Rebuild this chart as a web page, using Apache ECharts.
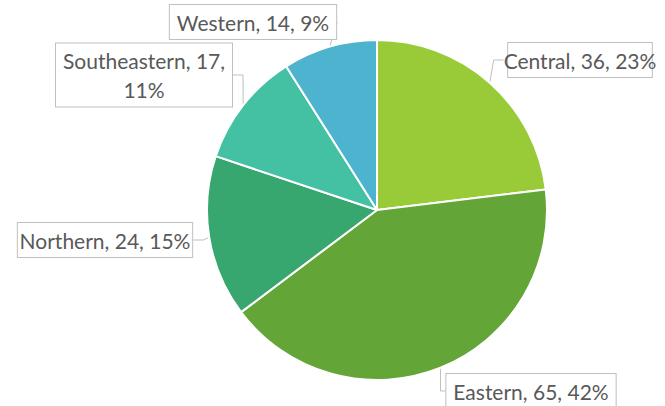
<!DOCTYPE html>
<html>
<head>
<meta charset="utf-8">
<script src="https://cdn.jsdelivr.net/npm/echarts@6/dist/echarts.min.js"></script>
<style>
  html, body { margin: 0; padding: 0; background: #fff; }
  #chart { width: 665px; height: 406px; }
</style>
</head>
<body>
<div id="chart"></div>
<script>
(function() {
  var regions = ['Central', 'Eastern', 'Northern', 'Southeastern', 'Western'];
  var counts = [36, 65, 24, 17, 14];
  var colors = ['#99CB38', '#63A537', '#37A76F', '#44C1A3', '#4EB3CF'];

  // where each callout box sits (centre of box, px)
  var labelPos = {
    Central: [580, 60],
    Eastern: [531, 391],
    Northern: [105, 240],
    Southeastern: [144, 75],
    Western: [253, 22]
  };
  var wrapped = { Southeastern: true };

  var chart = echarts.init(document.getElementById('chart'), null, { renderer: 'svg' });
  chart.setOption({
    animation: false,
    color: colors,
    series: [{
      type: 'pie',
      center: [377, 210],
      radius: 170,
      startAngle: 90,
      clockwise: true,
      percentPrecision: 0,
      data: regions.map(function(r, i) { return { name: r, value: counts[i] }; }),
      itemStyle: { borderColor: '#fff', borderWidth: 2 },
      label: {
        show: true,
        position: 'outside',
        overflow: 'none',
        color: '#595959',
        fontFamily: 'Lato, sans-serif',
        fontSize: 21,
        lineHeight: 29,
        align: 'center',
        backgroundColor: '#fff',
        borderColor: '#BFBFBF',
        borderWidth: 1,
        padding: [3, 7, 2, 7],
        formatter: function(p) {
          if (wrapped[p.name]) return p.name + ', ' + p.value + ',\n' + p.percent + '%';
          return p.name + ', ' + p.value + ', ' + p.percent + '%';
        }
      },
      labelLine: {
        show: true,
        length: 10,
        length2: 10,
        lineStyle: { color: '#BFBFBF', width: 1 }
      },
      labelLayout: function(params) {
        var pos = labelPos[regions[params.dataIndex]];
        return { x: pos[0], y: pos[1], align: 'center', verticalAlign: 'middle' };
      }
    }]
  });
  window.addEventListener('resize', function() { chart.resize(); });
})();
</script>
</body>
</html>
